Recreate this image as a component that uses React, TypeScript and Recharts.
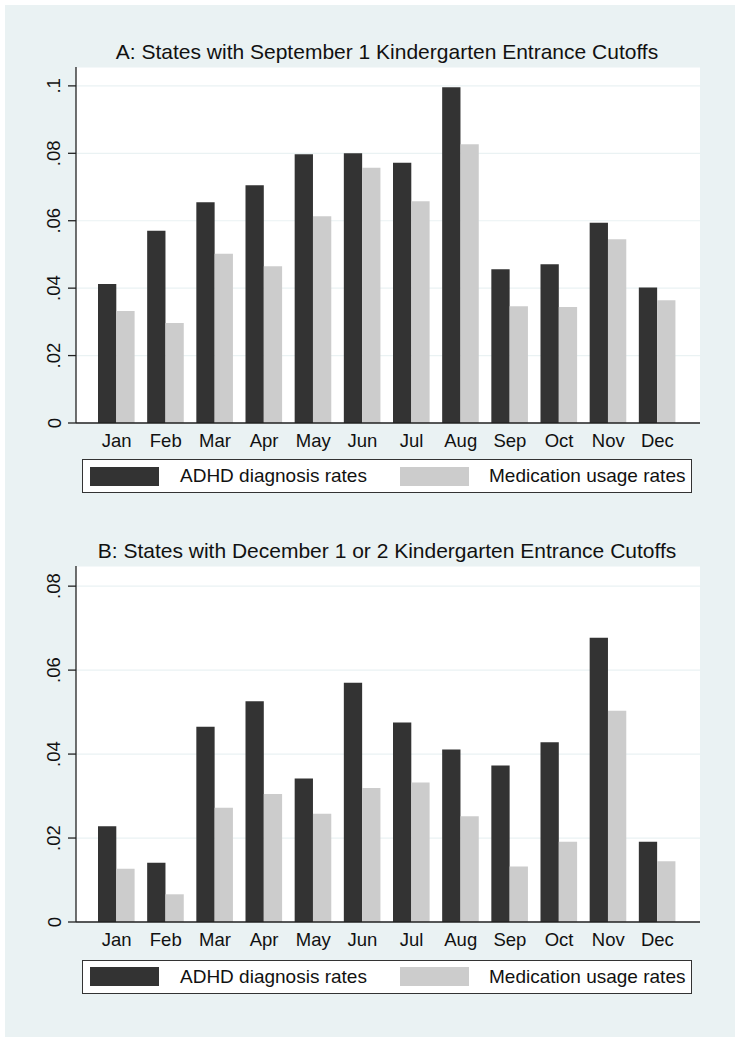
import { Bar, BarChart, CartesianGrid, XAxis, YAxis } from "recharts";

const months = ["Jan", "Feb", "Mar", "Apr", "May", "Jun", "Jul", "Aug", "Sep", "Oct", "Nov", "Dec"];

// Panel A: September 1 cutoff states
const adhdA = [0.0412, 0.057, 0.0655, 0.0705, 0.0797, 0.08, 0.0772, 0.0996, 0.0456, 0.0471, 0.0594, 0.0402];
const medA = [0.0332, 0.0297, 0.0502, 0.0465, 0.0613, 0.0757, 0.0658, 0.0827, 0.0346, 0.0344, 0.0545, 0.0364];
const ticksA = [0, 0.02, 0.04, 0.06, 0.08, 0.1];

// Panel B: December 1 or 2 cutoff states
const adhdB = [0.0228, 0.0141, 0.0465, 0.0526, 0.0342, 0.057, 0.0475, 0.0411, 0.0373, 0.0428, 0.0677, 0.0191];
const medB = [0.0127, 0.0066, 0.0272, 0.0305, 0.0258, 0.0319, 0.0332, 0.0252, 0.0132, 0.0191, 0.0503, 0.0145];
const ticksB = [0, 0.02, 0.04, 0.06, 0.08];

const FONT = '"Liberation Sans", Arial, Helvetica, sans-serif';
const BG = "#eaf2f3";
const DARK = "#333333";
const LIGHT = "#cccccc";
const INK = "#111111";

const fmt = (v: number) => (v === 0 ? "0" : String(v).replace(/^0/, ""));

function YTick(props: any) {
  const { x, y, payload } = props;
  const cx = x - 12;
  return (
    <text
      x={cx}
      y={y}
      transform={`rotate(-90, ${cx}, ${y})`}
      textAnchor="middle"
      dominantBaseline="central"
      fontFamily={FONT}
      fontSize={18.5}
      fill={INK}
    >
      {fmt(payload.value)}
    </text>
  );
}

function XTick(props: any) {
  const { x, y, payload } = props;
  return (
    <text x={x} y={y + 23.5} textAnchor="middle" fontFamily={FONT} fontSize={18.5} fill={INK}>
      {payload.value}
    </text>
  );
}

function Panel({
  top,
  title,
  adhd,
  med,
  ticks,
  yMax,
  legendTop,
}: {
  top: number;
  title: string;
  adhd: number[];
  med: number[];
  ticks: number[];
  yMax: number;
  legendTop: number;
}) {
  const data = months.map((m, i) => ({ month: m, adhd: adhd[i], med: med[i] }));
  return (
    <div style={{ position: "absolute", left: 0, top, width: 740, height: 500 }}>
      <div
        style={{
          position: "absolute",
          left: 37,
          top: 37,
          width: 700,
          height: 30,
          lineHeight: "30px",
          textAlign: "center",
          fontFamily: FONT,
          fontSize: 21,
          color: INK,
        }}
      >
        {title}
      </div>
      <BarChart
        width={740}
        height={500}
        data={data}
        margin={{ top: 67, right: 40, left: 0, bottom: 47 }}
        barGap={0}
        style={{ position: "absolute", left: 0, top: 0 }}
      >
        <CartesianGrid vertical={false} stroke={BG} strokeWidth={1.2} fill="#ffffff" />
        <XAxis
          dataKey="month"
          height={30}
          interval={0}
          tickLine={false}
          tickSize={0}
          tickMargin={0}
          padding={{ left: 16, right: 18 }}
          axisLine={{ stroke: "#222222", strokeWidth: 1.3 }}
          tick={<XTick />}
        />
        <YAxis
          width={76}
          domain={[0, yMax]}
          ticks={ticks}
          allowDataOverflow
          tickSize={8}
          tickMargin={2}
          axisLine={{ stroke: "#222222", strokeWidth: 1.3 }}
          tickLine={{ stroke: "#222222", strokeWidth: 1.3 }}
          tick={<YTick />}
        />
        <Bar dataKey="adhd" fill={DARK} barSize={18.3} isAnimationActive={false} />
        <Bar dataKey="med" fill={LIGHT} barSize={18.3} isAnimationActive={false} />
      </BarChart>
      <div
        style={{
          position: "absolute",
          left: 82,
          top: legendTop,
          width: 610,
          height: 34,
          boxSizing: "border-box",
          border: "1.3px solid #333333",
          background: "#ffffff",
          fontFamily: FONT,
          fontSize: 19,
          color: INK,
        }}
      >
        <div style={{ position: "absolute", left: 7, top: 6.5, width: 69, height: 19, background: DARK }} />
        <div style={{ position: "absolute", left: 97, top: 0, height: 32, lineHeight: "32px" }}>
          ADHD diagnosis rates
        </div>
        <div style={{ position: "absolute", left: 317, top: 6.5, width: 69, height: 19, background: LIGHT }} />
        <div style={{ position: "absolute", left: 406, top: 0, height: 32, lineHeight: "32px" }}>
          Medication usage rates
        </div>
      </div>
    </div>
  );
}

export default function App() {
  return (
    <div style={{ position: "absolute", left: 0, top: 0, width: 740, height: 1042, background: "#ffffff" }}>
      <div style={{ position: "absolute", left: 5, top: 5, width: 730, height: 1032, background: BG }} />
      <Panel
        top={0}
        title="A: States with September 1 Kindergarten Entrance Cutoffs"
        adhd={adhdA}
        med={medA}
        ticks={ticksA}
        yMax={0.1056}
        legendTop={459}
      />
      <Panel
        top={498.5}
        title="B: States with December 1 or 2 Kindergarten Entrance Cutoffs"
        adhd={adhdB}
        med={medB}
        ticks={ticksB}
        yMax={0.0848}
        legendTop={461}
      />
    </div>
  );
}
